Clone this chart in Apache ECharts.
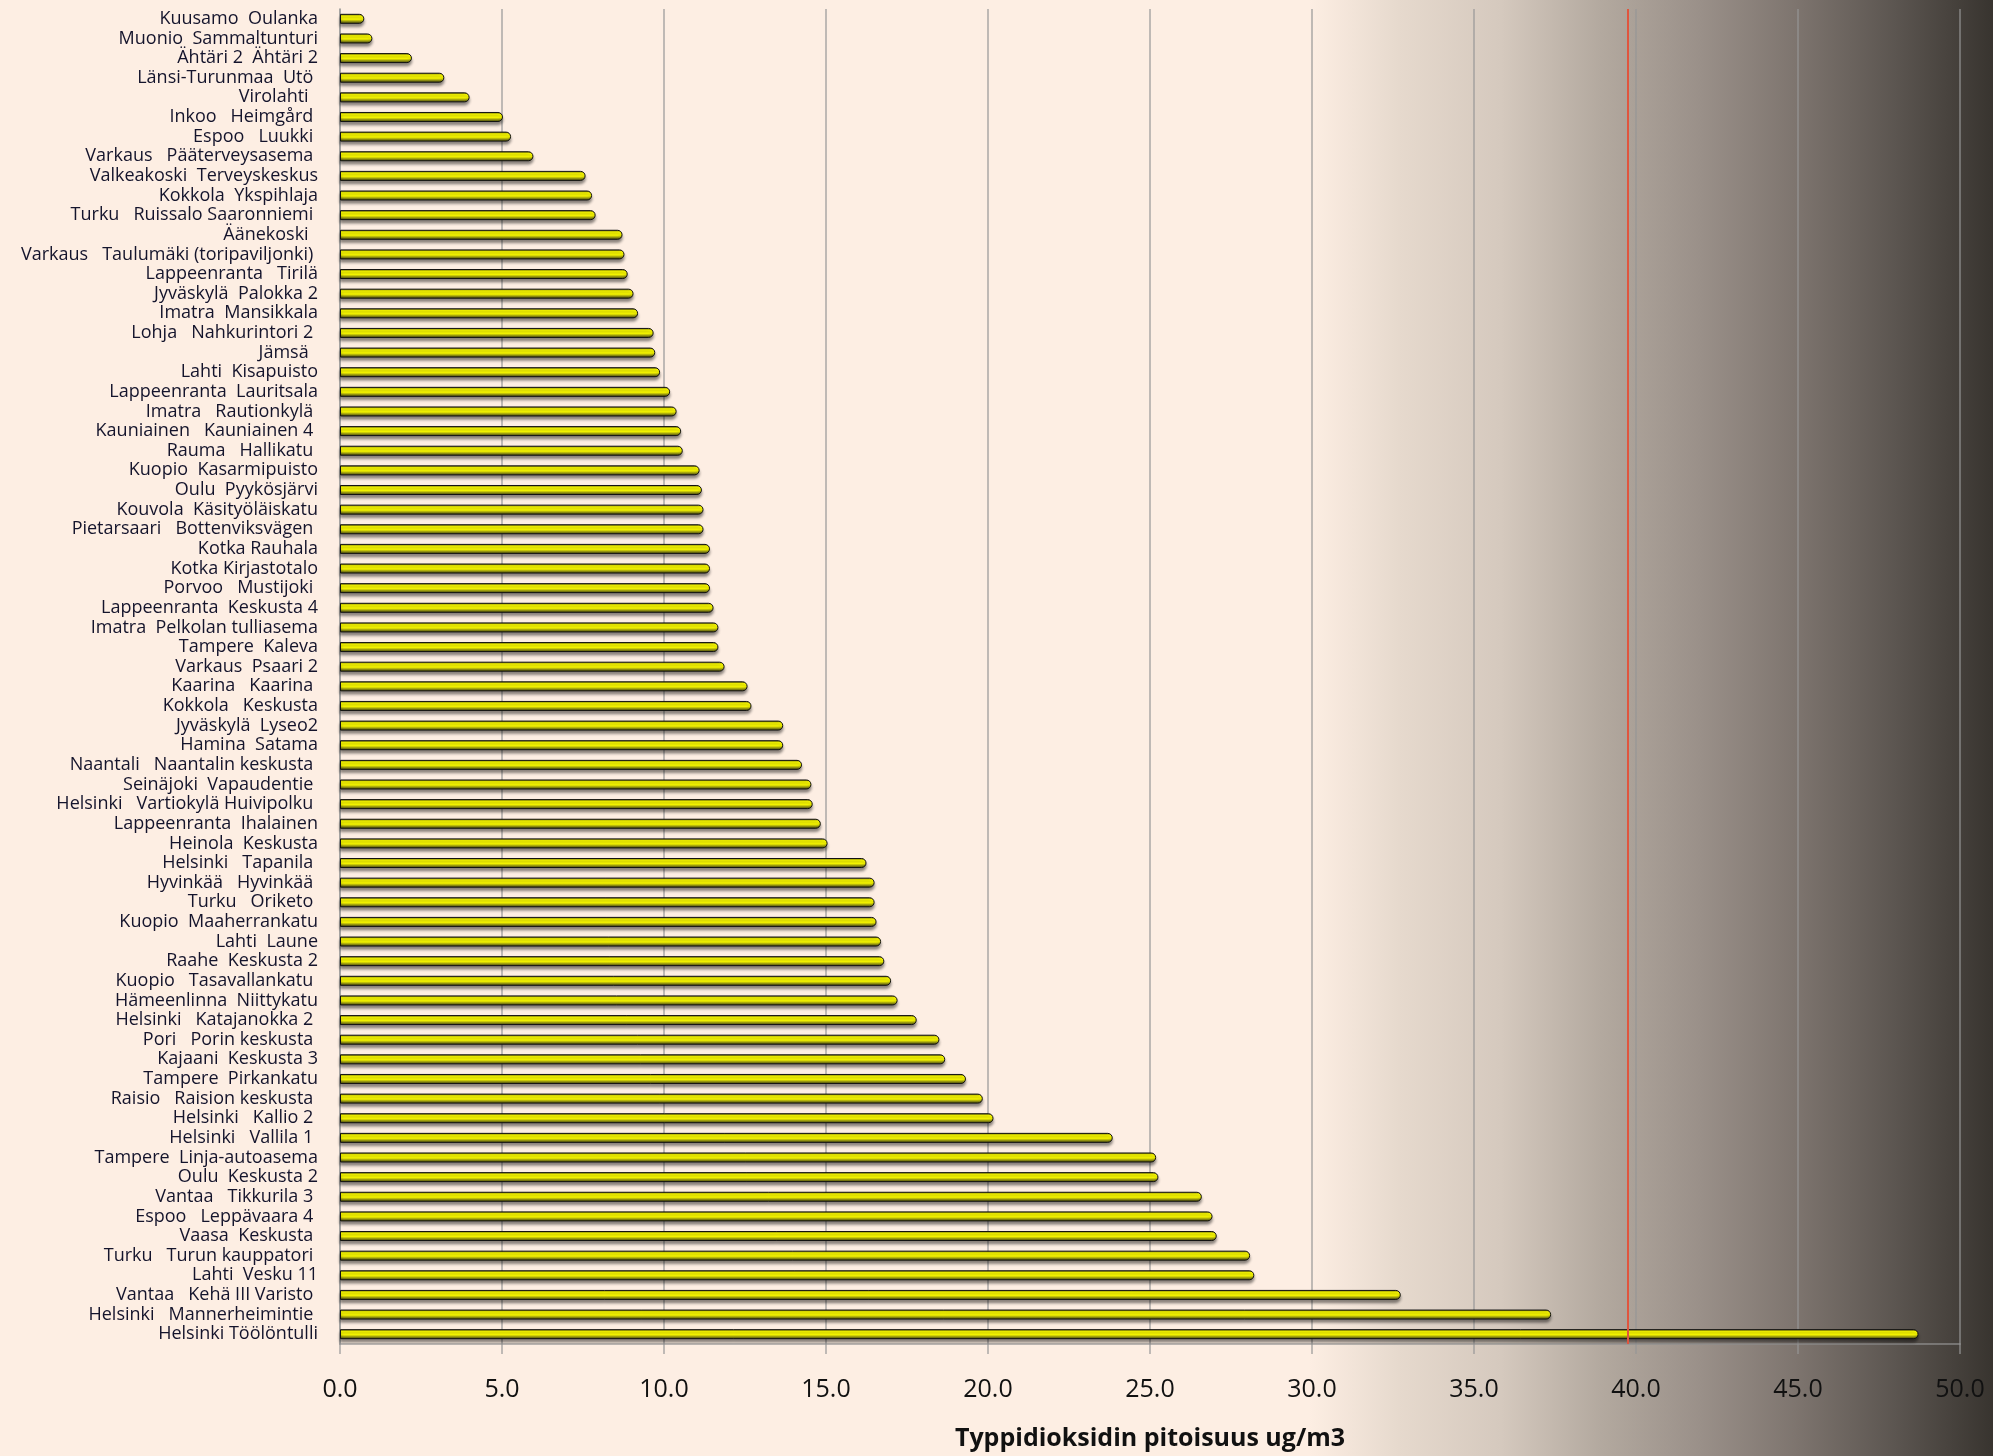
<!DOCTYPE html>
<html>
<head>
<meta charset="utf-8">
<script src="https://cdn.jsdelivr.net/npm/echarts@6/dist/echarts.min.js"></script>
<style>
  html, body { margin: 0; padding: 0; }
  #chart { width: 1993px; height: 1456px; }
</style>
</head>
<body>
<div id="chart"></div>
<script>
// mittausasemat, ylhäältä alas
const stations = [
  'Kuusamo  Oulanka', 'Muonio  Sammaltunturi', 'Ähtäri 2  Ähtäri 2', 'Länsi-Turunmaa  Utö ',
  'Virolahti  ', 'Inkoo   Heimgård ', 'Espoo   Luukki ', 'Varkaus   Pääterveysasema ',
  'Valkeakoski  Terveyskeskus', 'Kokkola  Ykspihlaja', 'Turku   Ruissalo Saaronniemi ', 'Äänekoski  ',
  'Varkaus   Taulumäki (toripaviljonki) ', 'Lappeenranta   Tirilä', 'Jyväskylä  Palokka 2', 'Imatra  Mansikkala',
  'Lohja   Nahkurintori 2 ', 'Jämsä  ', 'Lahti  Kisapuisto', 'Lappeenranta  Lauritsala',
  'Imatra   Rautionkylä ', 'Kauniainen   Kauniainen 4 ', 'Rauma   Hallikatu ', 'Kuopio  Kasarmipuisto',
  'Oulu  Pyykösjärvi', 'Kouvola  Käsityöläiskatu', 'Pietarsaari   Bottenviksvägen ', 'Kotka Rauhala',
  'Kotka Kirjastotalo', 'Porvoo   Mustijoki ', 'Lappeenranta  Keskusta 4', 'Imatra  Pelkolan tulliasema',
  'Tampere  Kaleva', 'Varkaus  Psaari 2', 'Kaarina   Kaarina ', 'Kokkola   Keskusta',
  'Jyväskylä  Lyseo2', 'Hamina  Satama', 'Naantali   Naantalin keskusta ', 'Seinäjoki  Vapaudentie ',
  'Helsinki   Vartiokylä Huivipolku ', 'Lappeenranta  Ihalainen', 'Heinola  Keskusta', 'Helsinki   Tapanila ',
  'Hyvinkää   Hyvinkää ', 'Turku   Oriketo ', 'Kuopio  Maaherrankatu', 'Lahti  Laune',
  'Raahe  Keskusta 2', 'Kuopio   Tasavallankatu ', 'Hämeenlinna  Niittykatu', 'Helsinki   Katajanokka 2 ',
  'Pori   Porin keskusta ', 'Kajaani  Keskusta 3', 'Tampere  Pirkankatu', 'Raisio   Raision keskusta ',
  'Helsinki   Kallio 2 ', 'Helsinki   Vallila 1 ', 'Tampere  Linja-autoasema', 'Oulu  Keskusta 2',
  'Vantaa   Tikkurila 3 ', 'Espoo   Leppävaara 4 ', 'Vaasa  Keskusta ', 'Turku   Turun kauppatori ',
  'Lahti  Vesku 11', 'Vantaa   Kehä III Varisto ', 'Helsinki   Mannerheimintie ', 'Helsinki Töölöntulli'
];

// NO2 vuosikeskiarvo ug/m3
const no2 = [
  0.75, 1.0, 2.22, 3.22, 4.0, 5.03, 5.28, 5.97, 7.58, 7.78, 7.89, 8.72, 8.78, 8.88, 9.06, 9.2, 9.68, 9.73,
  9.88, 10.19, 10.39, 10.53, 10.58, 11.1, 11.17, 11.22, 11.22, 11.42, 11.42, 11.42, 11.53, 11.68, 11.68, 11.87,
  12.58, 12.7, 13.68, 13.68, 14.26, 14.55, 14.59, 14.84, 15.05, 16.25, 16.5, 16.5, 16.56, 16.7, 16.8, 17.01,
  17.21, 17.8, 18.5, 18.68, 19.32, 19.84, 20.17, 23.85, 25.19, 25.26, 26.6, 26.93, 27.06, 28.09, 28.22,
  32.74, 37.38, 48.72
];

const xMin = 0, xMax = 50, xStep = 5;
const limitValue = [39.75]; // raja-arvoviiva

const chartDom = document.getElementById('chart');
const myChart = echarts.init(chartDom);

const gridColor = 'rgba(150,150,150,0.6)';

const option = {
  animation: false,
  backgroundColor: new echarts.graphic.LinearGradient(0, 0, 1, 0, [
    { offset: 0, color: '#fdeee3' },
    { offset: 0.657, color: '#fdeee3' },
    { offset: 0.702, color: '#e6d9cd' },
    { offset: 0.753, color: '#d5c9be' },
    { offset: 0.803, color: '#b3a99f' },
    { offset: 0.853, color: '#9a9089' },
    { offset: 0.902, color: '#7d746e' },
    { offset: 0.953, color: '#5a544f' },
    { offset: 1, color: '#38342f' }
  ]),
  grid: {
    left: 340,
    right: 33,
    top: 9,
    bottom: 106,
    containLabel: false
  },
  xAxis: {
    type: 'value',
    min: xMin,
    max: xMax,
    interval: xStep,
    name: 'Typpidioksidin pitoisuus ug/m3',
    nameLocation: 'middle',
    nameGap: 82,
    nameTextStyle: {
      fontFamily: 'Open Sans',
      fontWeight: 'bold',
      fontSize: 25,
      color: '#111'
    },
    axisLine: { show: true, lineStyle: { color: gridColor, width: 2 } },
    axisTick: { show: true, length: 10, lineStyle: { color: gridColor, width: 2 } },
    axisLabel: {
      margin: 33,
      fontFamily: 'Open Sans',
      fontSize: 25,
      color: '#111',
      formatter: v => v.toFixed(1)
    },
    splitLine: { show: true, lineStyle: { color: gridColor, width: 2 } }
  },
  yAxis: {
    type: 'category',
    data: stations,
    inverse: true,
    axisLine: { show: true, lineStyle: { color: gridColor, width: 2 } },
    axisTick: { show: false },
    axisLabel: {
      margin: 22,
      fontFamily: 'Open Sans',
      fontSize: 18,
      color: '#14142c',
      interval: 0
    }
  },
  series: [{
    type: 'bar',
    data: no2,
    barWidth: 10,
    itemStyle: {
      color: new echarts.graphic.LinearGradient(0, 0, 0, 1, [
        { offset: 0, color: '#3c3c10' },
        { offset: 0.22, color: '#ffff00' },
        { offset: 0.55, color: '#ffff00' },
        { offset: 0.78, color: '#8a8a10' },
        { offset: 1, color: '#3a3a0a' }
      ]),
      borderColor: '#111',
      borderWidth: 1,
      borderRadius: [0, 5, 5, 0],
      shadowColor: 'rgba(0,0,0,0.45)',
      shadowBlur: 3,
      shadowOffsetY: 3
    },
    markLine: {
      silent: true,
      symbol: 'none',
      label: { show: false },
      lineStyle: { color: '#e0553e', width: 2, type: 'solid' },
      data: limitValue.map(v => ({ xAxis: v }))
    }
  }]
};

myChart.setOption(option);
window.addEventListener('resize', () => {
  myChart.resize();
});
</script>
</body>
</html>
